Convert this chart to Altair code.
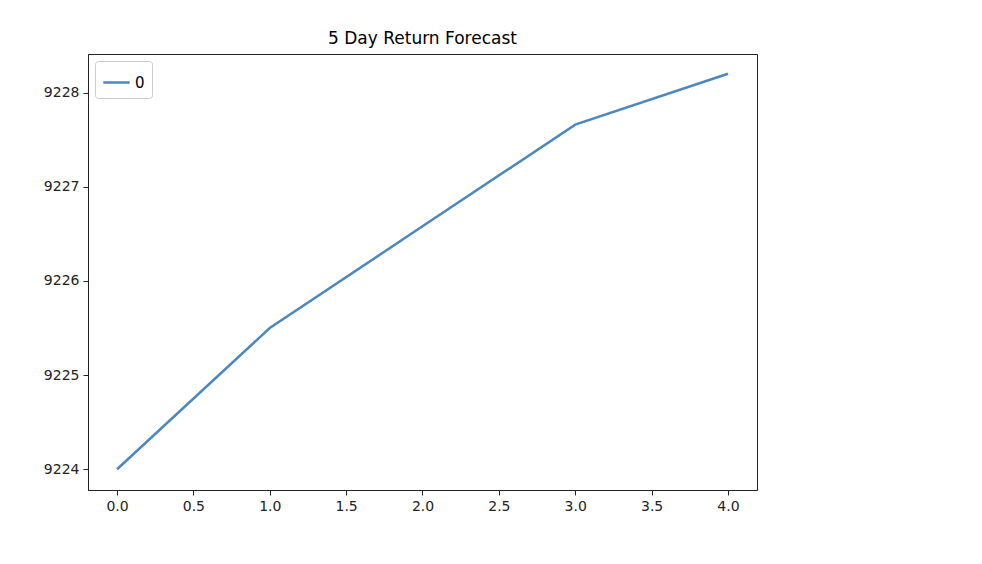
import altair as alt
import pandas as pd

steps = [0, 1, 2, 3, 4]
forecast = [9224.0, 9225.5, 9226.58, 9227.66, 9228.2]
series = ["0"] * 5

df = pd.DataFrame({"step": steps, "value": forecast, "series": series})

chart = alt.Chart(df, title=alt.Title("5 Day Return Forecast", fontSize=17, fontWeight="normal",
                                      font="DejaVu Sans", offset=6)).mark_line(
    color="#4c87c0", strokeWidth=2.5, clip=True
).encode(
    x=alt.X("step:Q", scale=alt.Scale(domain=[-0.19, 4.19], nice=False, zero=False),
            axis=alt.Axis(values=[0, 0.5, 1, 1.5, 2, 2.5, 3, 3.5, 4], format=".1f", title=None,
                          grid=False)),
    y=alt.Y("value:Q", scale=alt.Scale(domain=[9223.78, 9228.41], nice=False, zero=False),
            axis=alt.Axis(values=[9224, 9225, 9226, 9227, 9228], format="d", title=None,
                          grid=False)),
    color=alt.Color("series:N", scale=alt.Scale(range=["#4c87c0"]),
                    legend=alt.Legend(title=None, orient="top-left", symbolType="stroke",
                                      symbolStrokeWidth=2.5, symbolSize=700, strokeColor="#cccccc",
                                      padding=7, cornerRadius=3, labelFontSize=15, offset=7,
                                      labelFont="DejaVu Sans", fillColor="white")),
).properties(
    width=669, height=436,
    autosize=alt.AutoSizeParams(type="none"),
    padding={"left": 80, "top": 46, "right": 10, "bottom": 60},
).configure_axis(
    labelFont="DejaVu Sans", labelFontSize=14, labelColor="#222", domainColor="#222",
    tickColor="#222", tickSize=5, labelPadding=4
).configure_view(stroke="#222")

chart.save("out.html", embed_options={"renderer": "svg", "actions": False})
